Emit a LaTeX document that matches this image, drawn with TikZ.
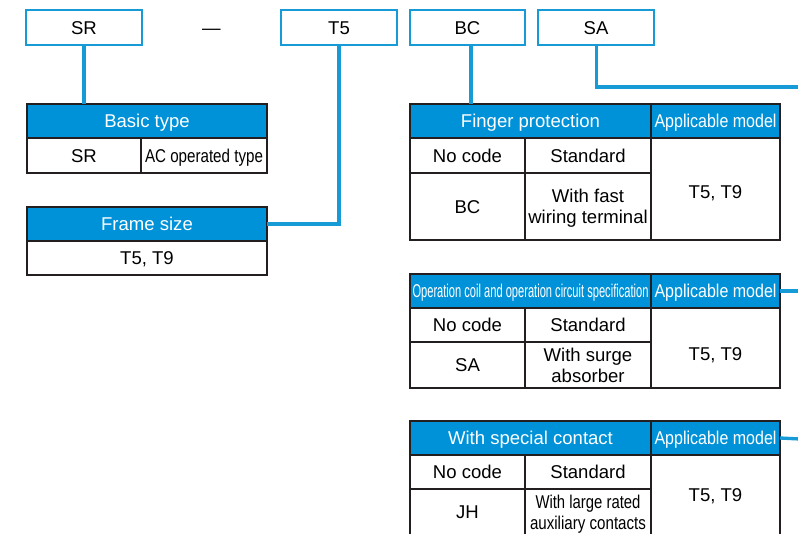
\documentclass[tikz,border=0pt]{standalone}
\usepackage{fontspec}
\setmainfont{Liberation Sans}
\usetikzlibrary{calc}
\definecolor{hdr}{RGB}{0,146,216}
\definecolor{lnk}{RGB}{22,155,215}
\definecolor{grid}{RGB}{35,31,32}
\newcommand\fitw[2]{\setbox0\hbox{#2}\pgfmathsetmacro\fitfac{#1/\the\wd0}\scalebox{\fitfac}[1]{\box0}}
\begin{document}
\begin{tikzpicture}[x=0.75pt,y=-0.75pt,
  every node/.style={font=\fontsize{13.9}{15.5}\selectfont, inner sep=0pt, outer sep=0pt},
  codebox/.style={draw=lnk, line width=2.2pt, fill=white, anchor=north west, text height=10pt, text depth=0pt},
  cell/.style={draw=grid, line width=1.2pt, fill=white, anchor=north west, text=black, text height=10pt, text depth=0pt},
  cell2/.style={cell, align=center, text height=25.5pt},
  hcell/.style={cell, fill=hdr, text=white},
  link/.style={draw=lnk, line width=2.5pt},
  wh/.style 2 args={minimum width=#1*0.75pt, minimum height=#2*0.75pt}]
\useasboundingbox (0,0) rectangle (798,534);
% code boxes
\node[codebox, wh={116}{35}] (sr) at (26,10) {SR};
\node[anchor=center, text height=10pt, text depth=0pt] (dash) at (211.5,27.5) {—};
\node[codebox, wh={116}{35}] (t5) at (281,10) {T5};
\node[codebox, wh={115}{35}] (bc) at (410,10) {BC};
\node[codebox, wh={116}{35}] (sa) at (538,10) {SA};
% basic type
\node[hcell, wh={240}{34}] (bth) at (27,104) {Basic type};
\node[cell, wh={114}{35}] (btc1) at (27,138) {SR};
\node[cell, wh={126}{35}] (btc2) at (141,138) {\fitw{88.5}{AC operated type}};
% frame size
\node[hcell, wh={240}{34}] (fsh) at (27,207) {Frame size};
\node[cell, wh={240}{34}] (fsc) at (27,241) {T5, T9};
% finger protection
\node[hcell, wh={241}{34}] (fph) at (410,104) {Finger protection};
\node[hcell, wh={129}{34}] (fpa) at (651,104) {\fitw{91.5}{Applicable model}};
\node[cell, wh={115}{35}] (fp11) at (410,138) {No code};
\node[cell, wh={126}{35}] (fp12) at (525,138) {Standard};
\node[cell, wh={115}{67}] (fp21) at (410,173) {BC};
\node[cell2, wh={126}{67}] (fp22) at (525,173) {With fast\\wiring terminal};
\node[cell, wh={129}{102}] (fpm) at (651,138) {\raisebox{-2.4pt}{T5, T9}};
% operation coil
\node[hcell, wh={241}{34}] (och) at (410,274) {\fitw{177}{Operation coil and operation circuit specification}};
\node[hcell, wh={129}{34}] (oca) at (651,274) {\fitw{91.5}{Applicable model}};
\node[cell, wh={115}{34}] (oc11) at (410,308) {No code};
\node[cell, wh={126}{34}] (oc12) at (525,308) {Standard};
\node[cell, wh={115}{46}] (oc21) at (410,342) {SA};
\node[cell2, wh={126}{46}] (oc22) at (525,342) {With surge\\absorber};
\node[cell, wh={129}{80}] (ocm) at (651,308) {\raisebox{-4.5pt}{T5, T9}};
% special contact
\node[hcell, wh={241}{34}] (sch) at (410,421) {With special contact};
\node[hcell, wh={129}{34}] (sca) at (651,421) {\fitw{91.5}{Applicable model}};
\node[cell, wh={115}{34}] (sc11) at (410,455) {No code};
\node[cell, wh={126}{34}] (sc12) at (525,455) {Standard};
\node[cell, wh={115}{46}] (sc21) at (410,489) {JH};
\node[cell2, wh={126}{46}] (sc22) at (525,489) {\fitw{78.75}{With large rated}\\\fitw{87}{auxiliary contacts}};
\node[cell, wh={129}{80}] (scm) at (651,455) {T5, T9};
% connectors
\coordinate (saend) at (800,87);
\coordinate (ocend) at (800,291);
\coordinate (scend) at (800,439);
\draw[link] (sr.south) -- (sr.south |- bth.north);
\draw[link] (t5.south) |- (fsh.east);
\draw[link] ([xshift=2.6pt]bc.south) -- ([xshift=2.6pt]bc.south |- fph.north);
\draw[link] ([xshift=0.5pt]sa.south) |- (saend);
\draw[link] (oca.east) -- (ocend);
\draw[link] (sca.east) -- (scend);
\end{tikzpicture}
\end{document}
